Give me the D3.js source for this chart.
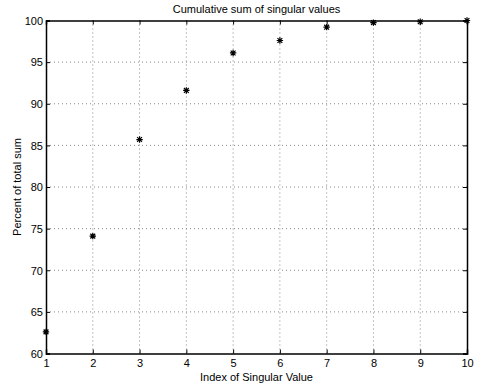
<!DOCTYPE html>
<html><head><meta charset="utf-8">
<script src="https://cdn.jsdelivr.net/npm/d3@7"></script>
<style>body{margin:0;background:#fff}svg{display:block}text{font-family:"Liberation Sans",Arial,sans-serif;fill:#000}</style>
</head><body>
<script>
const indices = [1,2,3,4,5,6,7,8,9,10];
const percents = [62.6,74.1,85.7,91.6,96.1,97.6,99.2,99.75,99.85,100];
const xTicks = [1,2,3,4,5,6,7,8,9,10];
const yTicks = [60,65,70,75,80,85,90,95,100];
const title = "Cumulative sum of singular values";
const xLabel = "Index of Singular Value";
const yLabel = "Percent of total sum";

const W=477,H=385;
const m={l:46,r:10,t:20.5,b:31.5};
const svg=d3.select("body").append("svg").attr("width",W).attr("height",H);
const x=d3.scaleLinear().domain([1,10]).range([m.l,W-m.r]);
const y=d3.scaleLinear().domain([60,100]).range([H-m.b,m.t]);
const x0=x.range()[0],x1=x.range()[1],y0=y.range()[0],y1=y.range()[1];

// grid
const g=svg.append("g");
g.selectAll("line.vx").data(xTicks.slice(1,-1)).join("line")
 .attr("x1",d=>x(d)).attr("x2",d=>x(d)).attr("y1",y0).attr("y2",y1)
 .attr("stroke","#888").attr("stroke-width",1).attr("stroke-dasharray","1,3");
g.selectAll("line.hy").data(yTicks.slice(1,-1)).join("line")
 .attr("y1",d=>y(d)).attr("y2",d=>y(d)).attr("x1",x0).attr("x2",x1)
 .attr("stroke","#888").attr("stroke-width",1).attr("stroke-dasharray","1,3");

// axes
const fs="11px";
const ax=svg.append("g").attr("transform",`translate(0,${y0})`).call(d3.axisBottom(x).tickValues(xTicks).tickSize(-4).tickPadding(6).tickFormat(d3.format("d")));
const axT=svg.append("g").attr("transform",`translate(0,${y1})`).call(d3.axisTop(x).tickValues(xTicks).tickSize(-4).tickFormat(""));
const ay=svg.append("g").attr("transform",`translate(${x0},0)`).call(d3.axisLeft(y).tickValues(yTicks).tickSize(-4).tickPadding(3).tickFormat(d3.format("d")));
const ayR=svg.append("g").attr("transform",`translate(${x1},0)`).call(d3.axisRight(y).tickValues(yTicks).tickSize(-4).tickFormat(""));
[ax,axT,ay,ayR].forEach(a=>{a.select(".domain").attr("stroke","#000").attr("stroke-width",1.5);
 a.selectAll(".tick line").attr("stroke","#000").attr("stroke-width",1);
 a.selectAll("text").attr("font-size",fs).attr("font-family","Liberation Sans, Arial, sans-serif").attr("fill","#000");});
ay.selectAll("text").attr("dy","0.35em");

// markers (asterisk)
const s=3.2;
const star=`M${-s},0L${s},0M0,${-s}L0,${s}M${-s*0.75},${-s*0.75}L${s*0.75},${s*0.75}M${-s*0.75},${s*0.75}L${s*0.75},${-s*0.75}`;
svg.append("g").selectAll("path").data(indices).join("path")
 .attr("transform",(d,i)=>`translate(${x(d)},${y(percents[i])})`)
 .attr("d",star).attr("stroke","#000").attr("stroke-width",1.2).attr("fill","none");

// labels
svg.append("text").attr("x",(x0+x1)/2).attr("y",12.5).attr("text-anchor","middle").attr("font-size",fs).text(title);
svg.append("text").attr("x",(x0+x1)/2).attr("y",380.5).attr("text-anchor","middle").attr("font-size",fs).text(xLabel);
svg.append("text").attr("transform",`translate(21,${(y0+y1)/2}) rotate(-90)`).attr("text-anchor","middle").attr("font-size",fs).text(yLabel);
</script>
</body></html>
